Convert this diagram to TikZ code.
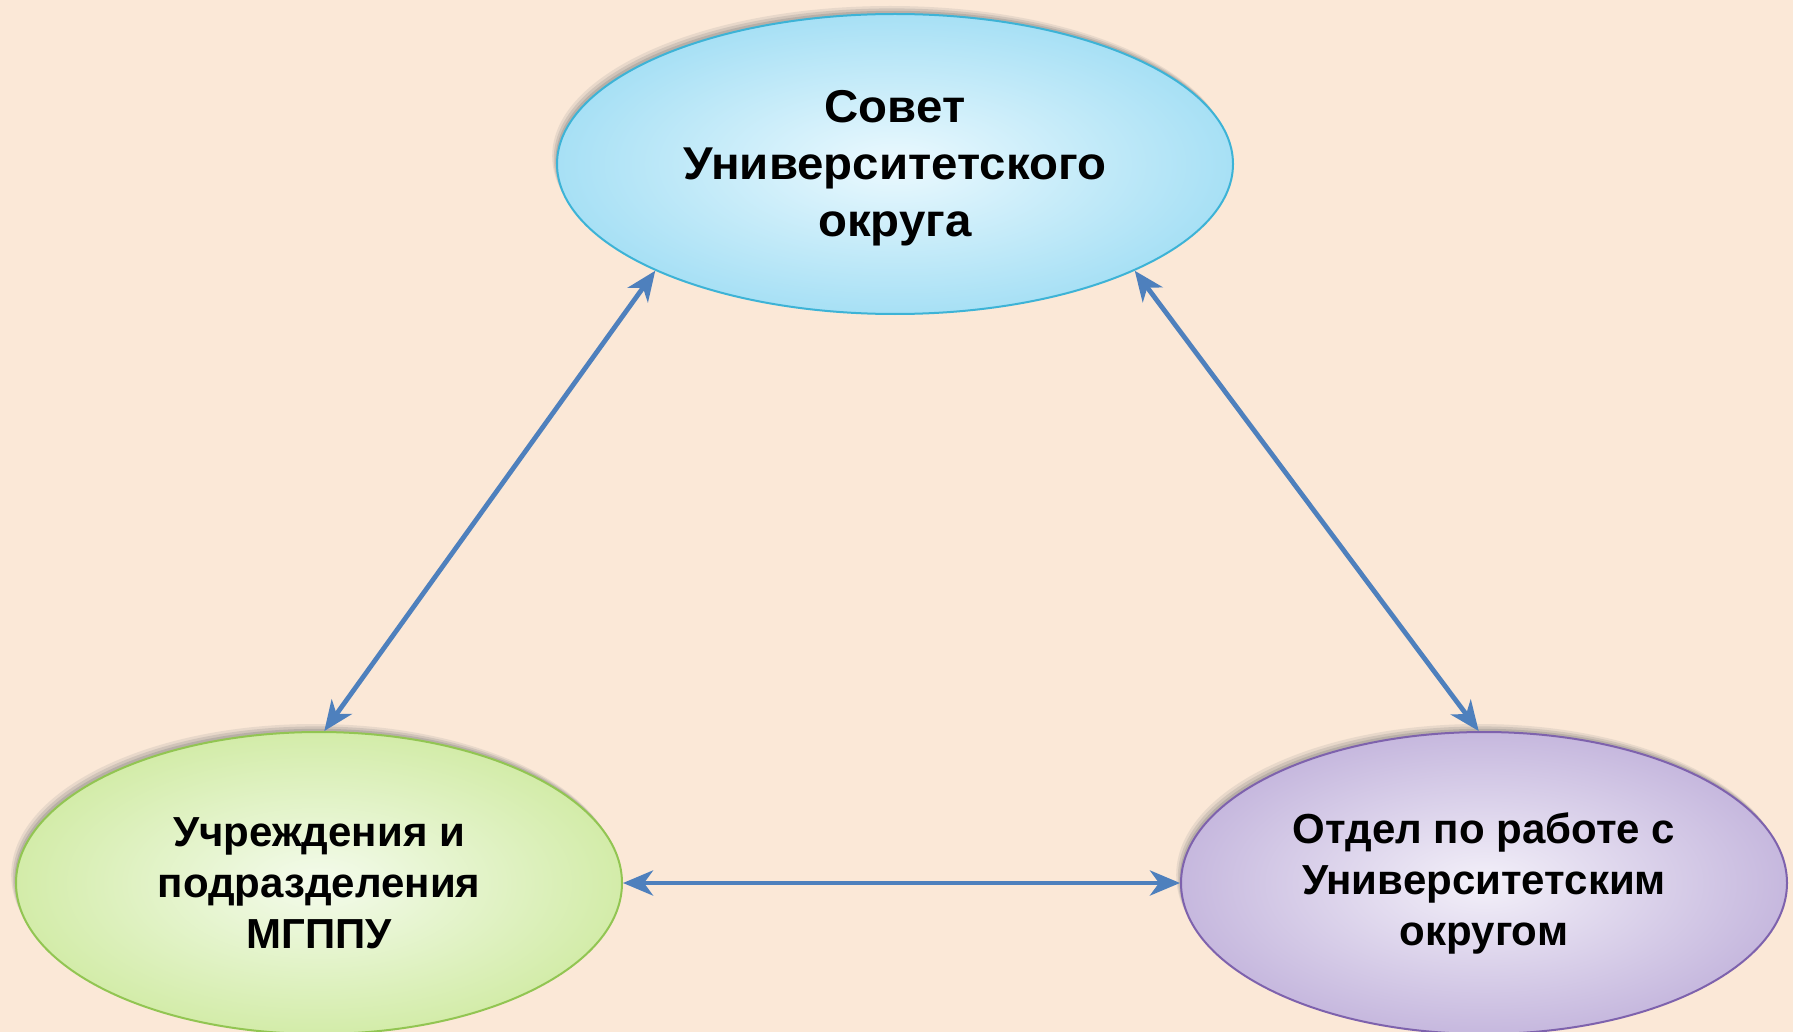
\documentclass[tikz,border=0pt]{standalone}
\usepackage{fontspec}
\setmainfont{Liberation Sans}
\newfontfamily\sovetfont[FakeStretch=1.03]{Liberation Sans}
\usetikzlibrary{arrows.meta,shapes.geometric,shadows}
\definecolor{bgpeach}{HTML}{FBE8D7}
\definecolor{linkblue}{HTML}{4E80BD}
\definecolor{cyanin}{HTML}{EBF9FE}
\definecolor{cyanout}{HTML}{A7E0F5}
\definecolor{cyanline}{HTML}{3DB3D6}
\definecolor{greenin}{HTML}{F4FBEC}
\definecolor{greenout}{HTML}{D3ECA9}
\definecolor{greenline}{HTML}{92C552}
\definecolor{violin}{HTML}{F3F0F9}
\definecolor{violout}{HTML}{C6B8DE}
\definecolor{violline}{HTML}{7E62AD}
\tikzset{
  softshadow/.style={
    drop shadow={shadow xshift=-2.4pt, shadow yshift=4pt, opacity=0.15},
    drop shadow={shadow xshift=-1.6pt, shadow yshift=2.8pt, opacity=0.22},
    drop shadow={shadow xshift=-0.8pt, shadow yshift=1.6pt, opacity=0.3}},
  oval/.style={ellipse, inner sep=0pt, align=center, line width=1pt, softshadow},
  sovetoval/.style={oval, minimum width=338pt, minimum height=150pt,
    font=\sovetfont\fontsize{23}{28.5}\selectfont\bfseries,
    draw=cyanline, inner color=cyanin, outer color=cyanout},
  uchroval/.style={oval, minimum width=303pt, minimum height=151pt,
    font=\fontsize{21}{25.5}\selectfont\bfseries,
    draw=greenline, inner color=greenin, outer color=greenout},
  otdeloval/.style={oval, minimum width=303pt, minimum height=151pt,
    font=\fontsize{21}{25.5}\selectfont\bfseries,
    draw=violline, inner color=violin, outer color=violout},
  link/.style={draw=linkblue, line width=2.4pt,
    {Stealth[length=15pt,width=12.5pt,inset=4.5pt]}-{Stealth[length=15pt,width=12.5pt,inset=4.5pt]}}
}
\begin{document}
\begin{tikzpicture}[x=0.5pt,y=-0.5pt]
  \fill[bgpeach] (0,0) rectangle (1793,1032);
  \useasboundingbox (0,0) rectangle (1793,1032);
  \node[sovetoval] (sovet) at (895,164) {\strut Совет\\Университетского\\округа};
  \node[uchroval] (uchr) at (319,883) {Учреждения и\\подразделения\\МГППУ};
  \node[otdeloval] (otdel) at (1484,883) {Отдел по работе с\\Университетским\\округом};
  \begin{scope}[link]
    \draw (sovet.204) to (uchr.88);
    \draw (sovet.-24) to (otdel.92);
    \draw (uchr.east) to (otdel.west);
  \end{scope}
\end{tikzpicture}
\end{document}
